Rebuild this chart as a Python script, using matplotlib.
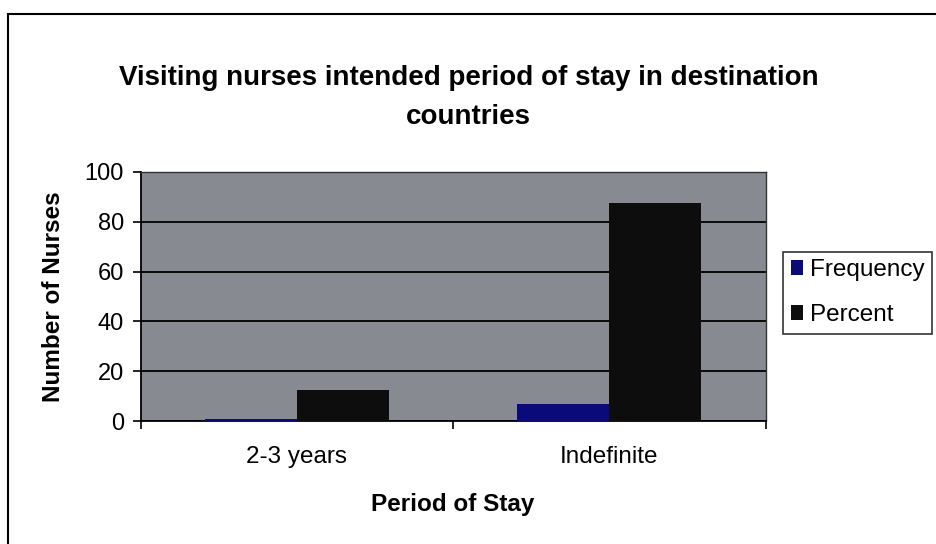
import numpy as np
import matplotlib.pyplot as plt
from matplotlib.patches import Rectangle

plt.rcParams['font.family'] = ['Liberation Sans', 'DejaVu Sans']

categories = ["2-3 years", "Indefinite"]
frequency = [1, 7]
percent = [12.5, 87.5]

fig = plt.figure(figsize=(9.37, 5.44), dpi=100)
ax = fig.add_axes([0.150, 0.226, 0.667, 0.458])

# outer chart border
fig.patches.append(Rectangle((0.009, -0.05), 1.05, 1.025, transform=fig.transFigure,
                             fill=False, edgecolor='black', linewidth=1.5))

x = np.arange(len(categories))
w = 0.295
ax.set_facecolor('#878b91')
ax.bar(x - w / 2, frequency, w, color='#0a0a78', label='Frequency', zorder=3)
ax.bar(x + w / 2, percent, w, color='#0d0d0d', label='Percent', zorder=3)

ax.set_ylim(0, 100)
ax.set_xlim(-0.5, 1.5)
ax.set_yticks(range(0, 101, 20))
ax.yaxis.grid(True, color='black', linewidth=1.3, zorder=1)
ax.set_xticks([-0.5, 0.5, 1.5], minor=False)
ax.set_xticklabels([])
ax.set_xticks(x, minor=True)
ax.set_xticklabels(categories, minor=True, fontsize=17.5)
ax.tick_params(axis='x', which='minor', length=0, pad=18)
ax.tick_params(axis='x', which='major', length=6, direction='out', width=1.2)
ax.tick_params(axis='y', length=6, width=1.2, labelsize=17, pad=6)

for s in ['left', 'bottom']:
    ax.spines[s].set_linewidth(1.3)
    ax.spines[s].set_color('black')
for s in ['top', 'right']:
    ax.spines[s].set_linewidth(1.0)
    ax.spines[s].set_color('#333333')

ax.set_xlabel('Period of Stay', fontsize=17.5, fontweight='bold', labelpad=18)
ax.set_ylabel('Number of Nurses', fontsize=17.5, fontweight='bold', labelpad=14)

fig.text(0.5, 0.82, 'Visiting nurses intended period of stay in destination\ncountries',
         ha='center', va='center', fontsize=20, fontweight='bold', linespacing=1.65)

leg = fig.legend(loc='upper left', bbox_to_anchor=(0.836, 0.537), fontsize=17.5,
                 frameon=True, fancybox=False, edgecolor='black',
                 handlelength=0.5, handleheight=0.6, handletextpad=0.3,
                 borderpad=0.3, labelspacing=0.95, borderaxespad=0)
leg.get_frame().set_linewidth(1.2)

fig.savefig('out.png', dpi=100)
